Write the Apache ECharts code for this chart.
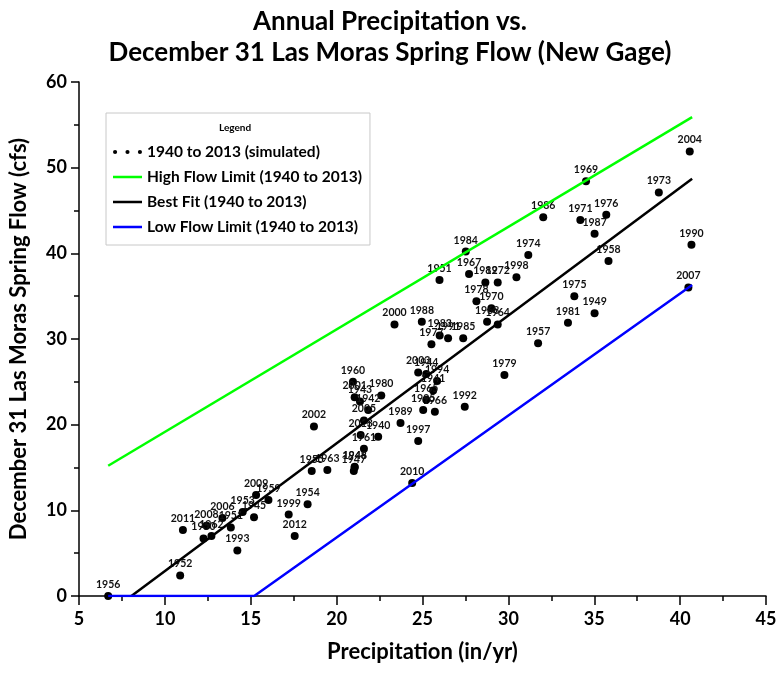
<!DOCTYPE html>
<html lang="en">
<head>
<meta charset="UTF-8">
<title>Annual Precipitation vs. Spring Flow</title>
<script src="https://cdn.jsdelivr.net/npm/echarts@6.0.0/dist/echarts.min.js"></script>
<style>
  html, body { margin: 0; padding: 0; background: #fff; }
  #chart { width: 780px; height: 673px; }
</style>
</head>
<body>
<div id="chart"></div>
<script>
// simulated years 1940-2013: precipitation (in/yr) vs Dec 31 flow (cfs)
const years = ['1956', '1952', '2011', '1950', '2008', '1962', '2006', '1951', '1993', '1953',
  '1945', '2009', '1959', '1999', '2012', '1954', '1955', '1963', '2002', '1960',
  '2001', '1943', '1942', '1980', '2005', '2013', '1940', '1961', '1948', '1947',
  '1946', '1989', '1997', '2010', '1992', '2003', '1944', '1994', '1941', '1965',
  '1995', '1966', '1984', '1951', '1967', '1982', '1972', '1998', '1974', '1978',
  '1970', '1968', '1964', '2000', '1988', '1983', '1991', '1985', '1977', '1957',
  '1979', '2004', '1969', '1973', '1986', '1971', '1976', '1987', '1990', '1958',
  '2007', '1975', '1949', '1981'];
const precip = [6.70, 10.89, 11.05, 12.25, 12.42, 12.71, 13.35, 13.84, 14.22, 14.53,
  15.19, 15.31, 16.03, 17.21, 17.56, 18.31, 18.55, 19.46, 18.68, 20.95,
  21.05, 21.36, 21.84, 22.60, 21.59, 21.40, 22.42, 21.59, 21.05, 21.00,
  21.05, 23.72, 24.75, 24.40, 27.46, 24.75, 25.22, 25.85, 25.62, 25.22,
  25.04, 25.72, 27.52, 25.99, 27.71, 28.66, 29.38, 30.47, 31.16, 28.14,
  29.01, 28.76, 29.38, 23.37, 24.96, 26.00, 26.49, 27.37, 25.52, 31.73,
  29.77, 40.56, 34.52, 38.76, 32.03, 34.19, 35.70, 35.02, 40.66, 35.83,
  40.48, 33.84, 35.02, 33.47];
const flow = [0.0, 2.4, 7.7, 6.7, 8.2, 7.0, 9.1, 8.0, 5.3, 9.8,
  9.2, 11.8, 11.2, 9.5, 7.0, 10.7, 14.6, 14.7, 19.8, 25.0,
  23.2, 22.7, 21.7, 23.4, 20.5, 18.8, 18.6, 17.2, 15.1, 14.6,
  15.0, 20.2, 18.1, 13.2, 22.1, 26.1, 25.9, 25.1, 24.0, 22.9,
  21.7, 21.5, 40.2, 36.9, 37.6, 36.6, 36.6, 37.2, 39.8, 34.4,
  33.6, 32.0, 31.7, 31.7, 32.0, 30.4, 30.1, 30.1, 29.4, 29.5,
  25.8, 51.9, 48.4, 47.1, 44.2, 43.9, 44.5, 42.3, 41.0, 39.1,
  36.0, 35.0, 33.0, 31.9];

const highLimit = [[6.7, 15.2], [40.7, 55.9]];
const bestFit = [[8.05, 0], [40.7, 48.7]];
const lowLimit = [[6.7, 0], [15.2, 0], [40.7, 36.3]];

const xTicks = [5, 45, 5];   // min, max, step
const yTicks = [0, 60, 10];

const font = 'Lato, "Open Sans", sans-serif';
const dots = 'path://M0,5a2,2 0 1,0 4,0a2,2 0 1,0 -4,0M12,5a2,2 0 1,0 4,0a2,2 0 1,0 -4,0M24,5a2,2 0 1,0 4,0a2,2 0 1,0 -4,0';
const dash = 'path://M0,0h30v2.6h-30z';

const points = precip.map((p, i) => ({ name: years[i], value: [p, flow[i]] }));

const chart = echarts.init(document.getElementById('chart'));
chart.setOption({
  animation: false,
  textStyle: { fontFamily: font },
  title: {
    text: 'Annual Precipitation vs.\nDecember 31 Las Moras Spring Flow (New Gage)',
    left: 'center',
    top: 1,
    textStyle: { fontSize: 26, fontWeight: 'bold', color: '#000', lineHeight: 31, fontFamily: font }
  },
  graphic: [{
    type: 'text',
    left: 219,
    top: 123,
    z: 100,
    style: { text: 'Legend', fontSize: 10, fontWeight: 'bold', fill: '#000', fontFamily: font }
  }],
  legend: {
    orient: 'vertical',
    left: 106,
    top: 113,
    padding: [31, 8, 10, 7],
    itemGap: 9,
    itemWidth: 29,
    itemHeight: 14,
    borderColor: '#c8c8c8',
    borderWidth: 1,
    textStyle: { fontSize: 15.5, fontWeight: 'bold', color: '#000', fontFamily: font },
    data: [
      { name: '1940 to 2013 (simulated)', icon: dots, itemStyle: { color: '#000' } },
      { name: 'High Flow Limit (1940 to 2013)', icon: dash, itemStyle: { color: '#00ff00' } },
      { name: 'Best Fit (1940 to 2013)', icon: dash, itemStyle: { color: '#000' } },
      { name: 'Low Flow Limit (1940 to 2013)', icon: dash, itemStyle: { color: '#0000ff' } }
    ]
  },
  grid: { left: 78, right: 14, top: 82, bottom: 77 },
  xAxis: {
    type: 'value',
    min: xTicks[0], max: xTicks[1], interval: xTicks[2],
    name: 'Precipitation (in/yr)',
    nameLocation: 'middle',
    nameGap: 45,
    nameTextStyle: { fontSize: 22, fontWeight: 'bold', color: '#000' },
    axisLine: { show: true, onZero: false, lineStyle: { color: '#000', width: 1.5 } },
    axisTick: { show: true, length: 9, lineStyle: { color: '#000', width: 1.5 } },
    minorTick: { show: true, splitNumber: 2, length: 5, lineStyle: { color: '#000', width: 1.5 } },
    axisLabel: { fontSize: 18, fontWeight: 'bold', color: '#000', margin: 14 },
    splitLine: { show: false }
  },
  yAxis: {
    type: 'value',
    min: yTicks[0], max: yTicks[1], interval: yTicks[2],
    name: 'December 31 Las Moras Spring Flow (cfs)',
    nameLocation: 'middle',
    nameGap: 49,
    nameTextStyle: { fontSize: 22, fontWeight: 'bold', color: '#000' },
    axisLine: { show: true, lineStyle: { color: '#000', width: 1.5 } },
    axisTick: { show: true, length: 8, lineStyle: { color: '#000', width: 1.5 } },
    minorTick: { show: true, splitNumber: 2, length: 5, lineStyle: { color: '#000', width: 1.5 } },
    axisLabel: { fontSize: 18, fontWeight: 'bold', color: '#000', margin: 12 },
    splitLine: { show: false }
  },
  series: [
    {
      name: '1940 to 2013 (simulated)',
      type: 'scatter',
      symbolSize: 8,
      itemStyle: { color: '#000', opacity: 1 },
      label: {
        show: true,
        position: 'top',
        distance: 2,
        formatter: p => p.name,
        fontSize: 10.5,
        fontWeight: 'bold',
        color: '#111'
      },
      labelLayout: { hideOverlap: false },
      data: points,
      z: 2
    },
    {
      name: 'High Flow Limit (1940 to 2013)',
      type: 'line',
      data: highLimit,
      symbol: 'none',
      lineStyle: { color: '#00ff00', width: 2.5 },
      itemStyle: { color: '#00ff00' },
      z: 3
    },
    {
      name: 'Best Fit (1940 to 2013)',
      type: 'line',
      data: bestFit,
      symbol: 'none',
      lineStyle: { color: '#000', width: 2.5 },
      itemStyle: { color: '#000' },
      z: 3
    },
    {
      name: 'Low Flow Limit (1940 to 2013)',
      type: 'line',
      data: lowLimit,
      symbol: 'none',
      lineStyle: { color: '#0000ff', width: 2.5 },
      itemStyle: { color: '#0000ff' },
      z: 3
    }
  ]
});
</script>
</body>
</html>
